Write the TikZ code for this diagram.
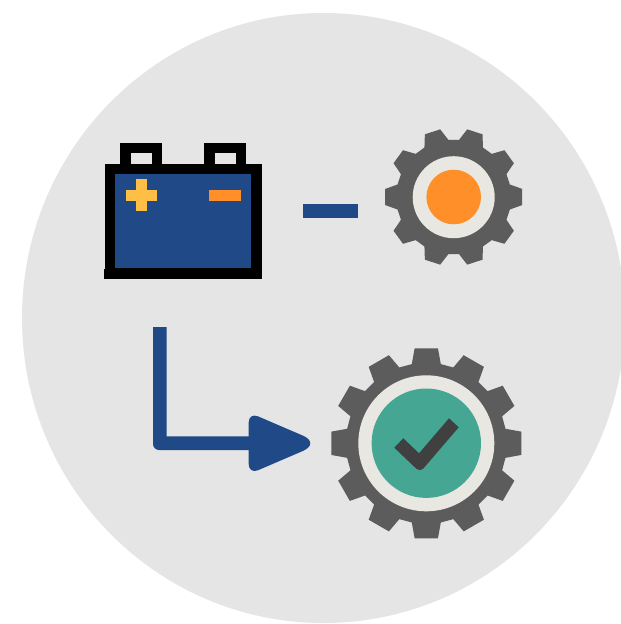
\documentclass[tikz,border=0pt]{standalone}
\definecolor{bgdisc}{HTML}{E5E5E5}
\definecolor{navy}{HTML}{1F4A87}
\definecolor{geargray}{HTML}{5C5C5C}
\definecolor{ringc}{HTML}{E8E7E1}
\definecolor{orangec}{HTML}{FF9029}
\definecolor{yellowc}{HTML}{FFBE45}
\definecolor{tealc}{HTML}{44A693}
\definecolor{checkc}{HTML}{404040}
% #1 cx, #2 cy, #3 teeth, #4 tip r, #5 root r, #6 tip half angle, #7 root half angle
\newcommand{\gearpath}[7]{%
  \pgfmathsetmacro{\pitch}{360/#3}%
  \pgfmathsetmacro{\lastk}{int(#3-1)}%
  \fill[geargray] ({#1+#5*cos(-#7)},{#2+#5*sin(-#7)})
    \foreach \k in {0,...,\lastk} {
      -- ({#1+#5*cos(\k*\pitch-#7)},{#2+#5*sin(\k*\pitch-#7)})
      -- ({#1+#4*cos(\k*\pitch-#6)},{#2+#4*sin(\k*\pitch-#6)})
      -- ({#1+#4*cos(\k*\pitch+#6)},{#2+#4*sin(\k*\pitch+#6)})
      -- ({#1+#5*cos(\k*\pitch+#7)},{#2+#5*sin(\k*\pitch+#7)})
    } -- cycle;%
}
\begin{document}
\begin{tikzpicture}[x=1pt,y=-1pt]
\useasboundingbox (0,0) rectangle (621,624);
\clip (0,0) rectangle (621,624);
\fill[white] (0,0) rectangle (621,624);
% disc
\fill[bgdisc] (323.5,318) ellipse[x radius=301.5, y radius=305];
% battery
\fill[black] (120.3,142.7) rectangle (162.3,170);
\fill[black] (204.3,142.7) rectangle (246,170);
\fill[bgdisc] (130.7,153.3) rectangle (152,163.7);
\fill[bgdisc] (214.7,153.3) rectangle (235.7,163.7);
\fill[black] (104.7,163.7) rectangle (261.7,278.7);
\fill[black] (104.2,269) rectangle (106,278.7);
\fill[navy] (115,174) rectangle (251.3,268.3);
\fill[yellowc] (125.7,190) rectangle (157,200.7);
\fill[yellowc] (136.3,179.3) rectangle (146.7,210.7);
\fill[orangec] (209,190) rectangle (241,201);
% bar
\fill[navy] (303,204) rectangle (358,218);
% small gear
\gearpath{453.7}{197}{10}{69}{57.5}{6.7}{12.6}
\fill[ringc] (453.7,197.2) circle[radius=41];
\fill[orangec] (453.7,197) circle[radius=27.3];
% bent arrow
\fill[navy] (153,327) -- (166.7,327) -- (166.7,436.3) -- (255,436.3) -- (255,450)
  [rounded corners=6pt] -- (153,450) [sharp corners] -- cycle;
\fill[navy] (302.6,435.5) .. controls (312.8,439.8) and (312.8,446.8) .. (302.6,451.1)
  -- (257.9,470.3) .. controls (252.8,472.45) and (248.7,469.7) .. (248.7,464.2)
  -- (248.7,422.4) .. controls (248.7,416.9) and (252.8,414.15) .. (257.9,416.3) -- cycle;
% big gear
\gearpath{426.3}{443.3}{12}{95.7}{80.5}{7}{10.4}
\fill[ringc] (426.3,443.3) circle[radius=68];
\fill[tealc] (426.3,443.2) circle[radius=54.7];
% check
\fill[checkc] (394.3,447.7) -- (403.3,438.3) -- (419,453.3) -- (449,418.3) -- (458.7,427.3)
  [rounded corners=5pt] -- (420.1,472.3) [sharp corners] -- cycle;
\end{tikzpicture}
\end{document}
